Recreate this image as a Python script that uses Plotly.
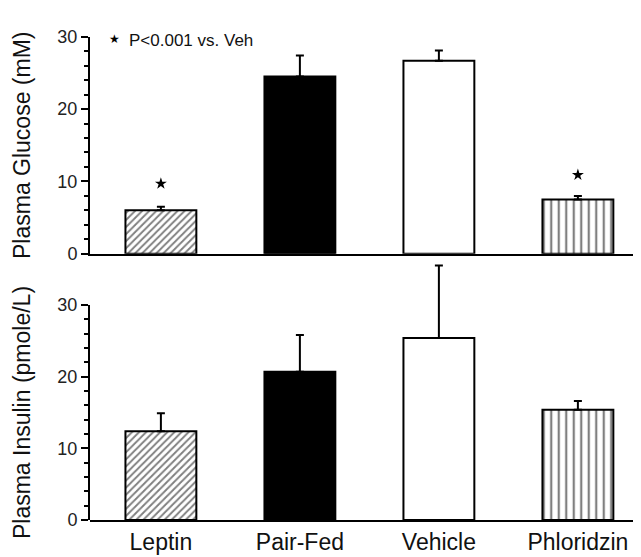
import plotly.graph_objects as go

categories = ["Leptin", "Pair-Fed", "Vehicle", "Phloridzin"]
glucose = [6.0, 24.5, 26.7, 7.5]
glucose_err = [0.5, 2.9, 1.4, 0.5]
insulin = [12.4, 20.7, 25.4, 15.4]
insulin_err = [2.5, 5.1, 10.1, 1.2]
sig_categories = ["Leptin", "Phloridzin"]
sig_star_y = [9.7, 10.9]

W, H = 641, 557
FONT = "Liberation Sans, Arial, Helvetica, sans-serif"

fills = ["white", "black", "white", "white"]
pat_shapes = ["/", "", "", "|"]
pat_sizes = [5, 6, 6, 7.5]
pat_solid = [0.38, 0.3, 0.3, 0.3]

fig = go.Figure()

def add_bars(vals, errs, xa, ya):
    for i, cat in enumerate(categories):
        marker = dict(color=fills[i], line=dict(color="black", width=2))
        if pat_shapes[i]:
            marker["pattern"] = dict(shape=pat_shapes[i], fgcolor="black",
                                     size=pat_sizes[i], solidity=pat_solid[i])
        fig.add_trace(go.Bar(
            x=[cat], y=[vals[i]], width=0.51,
            marker=marker,
            error_y=dict(type="data", array=[errs[i]], arrayminus=[0],
                         symmetric=False, color="black", thickness=2, width=4),
            xaxis=xa, yaxis=ya, showlegend=False, hoverinfo="skip",
        ))

add_bars(glucose, glucose_err, "x", "y")
add_bars(insulin, insulin_err, "x2", "y2")

fig.add_trace(go.Scatter(
    x=sig_categories, y=sig_star_y, mode="markers",
    marker=dict(symbol="star", size=9, color="black"),
    xaxis="x", yaxis="y", showlegend=False, hoverinfo="skip",
))

# invisible trace for the displayed 0-30 scale of the insulin panel
fig.add_trace(go.Scatter(x=[categories[0]], y=[0], mode="markers",
                         marker=dict(opacity=0), xaxis="x3", yaxis="y3",
                         showlegend=False, hoverinfo="skip"))

xdom = [82 / W, 638 / W]
xrange = [-0.51, 3.49]
top_dom = [1 - 244.5 / H, 1 - 19.5 / H]
bot_px0, bot_px30 = 520.7, 297.7
bot_top_val = 36
bot_px_top = bot_px0 - (bot_px0 - bot_px30) * bot_top_val / 30
bot_dom = [1 - bot_px0 / H, 1 - bot_px_top / H]
bot_disp_dom = [1 - bot_px0 / H, 1 - bot_px30 / H]

axis_common = dict(
    showgrid=False, zeroline=False, linecolor="black", linewidth=2,
    ticks="outside", tickcolor="black", tickwidth=2, ticklen=7,
)

yaxis_ticks = dict(
    axis_common,
    tickmode="linear", tick0=0, dtick=10,
    tickfont=dict(family=FONT, size=18, color="#222"),
    minor=dict(tickmode="linear", tick0=0, dtick=2, ticks="outside",
               ticklen=4, tickwidth=2, tickcolor="black"),
)

title_font = dict(family=FONT, size=23, color="#111")

fig.update_layout(
    width=W, height=H,
    margin=dict(l=0, r=0, t=0, b=0),
    paper_bgcolor="white", plot_bgcolor="rgba(0,0,0,0)",
    font=dict(family=FONT, color="#111"),
    xaxis=dict(axis_common, domain=xdom, anchor="y", range=xrange,
               showticklabels=False, ticks="", type="category",
               categoryorder="array", categoryarray=categories),
    yaxis=dict(yaxis_ticks, domain=top_dom, anchor="x", range=[0, 30],
               showline=True,
               title=dict(text="Plasma Glucose (mM)", font=title_font,
                          standoff=20)),
    xaxis2=dict(axis_common, domain=xdom, anchor="y2", range=xrange,
                ticks="", type="category",
                categoryorder="array", categoryarray=categories,
                tickfont=dict(family=FONT, size=23, color="#111")),
    yaxis2=dict(domain=bot_dom, anchor="x2", range=[0, bot_top_val],
                visible=False, showgrid=False, zeroline=False),
    xaxis3=dict(domain=xdom, anchor="y3", range=xrange, type="category",
                categoryorder="array", categoryarray=categories,
                visible=False, showgrid=False, zeroline=False),
    yaxis3=dict(yaxis_ticks, domain=bot_disp_dom, anchor="x3",
                range=[0, 30], showline=True,
                title=dict(text="Plasma Insulin (pmole/L)", font=title_font,
                           standoff=20)),
    annotations=[
        dict(text="★", xref="paper", yref="paper",
             x=106 / W, y=1 - 22 / H, showarrow=False,
             font=dict(family="DejaVu Sans", size=12, color="black"),
             xanchor="center", yanchor="middle"),
        dict(text="P<0.001 vs. Veh", xref="paper", yref="paper",
             x=119 / W, y=1 - 23 / H, showarrow=False,
             font=dict(family=FONT, size=17, color="#111"),
             xanchor="left", yanchor="middle"),
    ],
)

fig.write_html("out.html")
